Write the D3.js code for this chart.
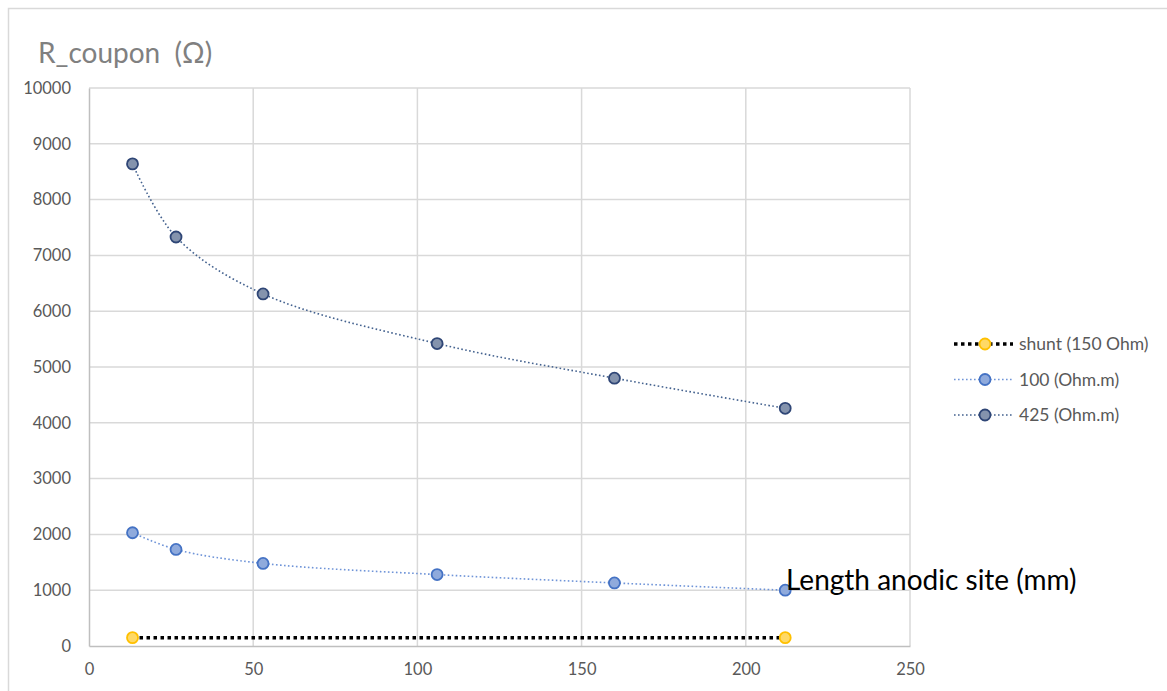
<!DOCTYPE html>
<html><head><meta charset="utf-8">
<script src="https://cdn.jsdelivr.net/npm/d3@7"></script>
<style>body{margin:0;background:#fff}svg{display:block}text{font-family:Lato,"Open Sans",sans-serif}</style>
</head><body><svg id="c" width="1167" height="691"></svg>
<script>
const lengths = [13.25, 26.5, 53, 106, 160, 212];
const r425 = [8640, 7330, 6310, 5420, 4800, 4260];
const r100 = [2030, 1730, 1480, 1280, 1130, 1000];
const shuntX = [13.25, 212];
const shuntY = [150, 150];
const xTicks = [0, 50, 100, 150, 200, 250];
const yTicks = [0,1000,2000,3000,4000,5000,6000,7000,8000,9000,10000];
const seriesNames = ["shunt (150 Ohm)", "100 (Ohm.m)", "425 (Ohm.m)"];

const svg = d3.select("#c");
svg.append("rect").attr("x",8.5).attr("y",8.5).attr("width",1170).attr("height",700)
  .attr("fill","none").attr("stroke","#d9d9d9").attr("stroke-width",1.5);

const x = d3.scaleLinear().domain([0,250]).range([89,910]);
const y = d3.scaleLinear().domain([0,10000]).range([646,88]);

const g = svg.append("g");
g.selectAll(".vg").data(xTicks.slice(1)).join("line")
  .attr("x1",d=>x(d)).attr("x2",d=>x(d)).attr("y1",y(0)).attr("y2",y(10000))
  .attr("stroke","#d9d9d9").attr("stroke-width",1.5);
g.selectAll(".hg").data(yTicks.slice(1)).join("line")
  .attr("x1",x(0)).attr("x2",x(250)).attr("y1",d=>y(d)).attr("y2",d=>y(d))
  .attr("stroke","#d9d9d9").attr("stroke-width",1.5);

const fmt = d3.format("d");
const xAxis = d3.axisBottom(x).tickValues(xTicks).tickFormat(fmt).tickSize(0).tickPadding(17);
const yAxis = d3.axisLeft(y).tickValues(yTicks).tickFormat(fmt).tickSize(0).tickPadding(18);
const gx = svg.append("g").attr("transform",`translate(0,${y(0)})`).call(xAxis);
const gy = svg.append("g").attr("transform",`translate(${x(0)},0)`).call(yAxis);
[gx,gy].forEach(a=>{
  a.select(".domain").attr("stroke","#bfbfbf").attr("stroke-width",1.5);
  a.selectAll("text").attr("fill","#595959").style("font-size","16.5px").style("font-family","Lato,sans-serif");
});

const line = d3.line().x(d=>x(d[0])).y(d=>y(d[1])).curve(d3.curveCatmullRom.alpha(0.5));
const lineStraight = d3.line().x(d=>x(d[0])).y(d=>y(d[1]));

const s425 = lengths.map((l,i)=>[l,r425[i]]);
const s100 = lengths.map((l,i)=>[l,r100[i]]);
const sSh = shuntX.map((l,i)=>[l,shuntY[i]]);

const styles = [
  {data:sSh, lc:"#000", lw:3.5, dash:"3.5,3.5", fill:"#ffd966", stroke:"#ffc000", gen:lineStraight},
  {data:s100, lc:"#6f94d8", lw:1.6, dash:"1.6,2.4", fill:"#8faadc", stroke:"#4472c4", gen:line},
  {data:s425, lc:"#44628f", lw:1.6, dash:"1.6,2.4", fill:"#8493ad", stroke:"#2f4676", gen:line}
];
styles.forEach(s=>{
  svg.append("path").attr("d",s.gen(s.data)).attr("fill","none")
    .attr("stroke",s.lc).attr("stroke-width",s.lw).attr("stroke-dasharray",s.dash);
});
styles.forEach(s=>{
  svg.append("g").selectAll("circle").data(s.data).join("circle")
    .attr("cx",d=>x(d[0])).attr("cy",d=>y(d[1])).attr("r",5.5)
    .attr("fill",s.fill).attr("stroke",s.stroke).attr("stroke-width",1.8);
});

const leg = svg.append("g");
styles.forEach((s,i)=>{
  const ly = 344 + i*35.5;
  leg.append("line").attr("x1",954).attr("x2",1013).attr("y1",ly).attr("y2",ly)
    .attr("stroke",s.lc).attr("stroke-width",s.lw).attr("stroke-dasharray",s.dash);
  leg.append("circle").attr("cx",985).attr("cy",ly).attr("r",5.5)
    .attr("fill",s.fill).attr("stroke",s.stroke).attr("stroke-width",1.8);
  leg.append("text").attr("x",1019).attr("y",ly).attr("dy","0.35em")
    .attr("fill","#595959").style("font-size","17.5px").text(seriesNames[i]);
});

svg.append("text").attr("x",38).attr("y",63).attr("fill","#808080")
  .style("font-size","28px").text("R_coupon\u00a0\u00a0(Ω)");
svg.append("text").attr("x",786).attr("y",590).attr("fill","#000")
  .style("font-size","28px").text("Length anodic site (mm)");
</script></body></html>
